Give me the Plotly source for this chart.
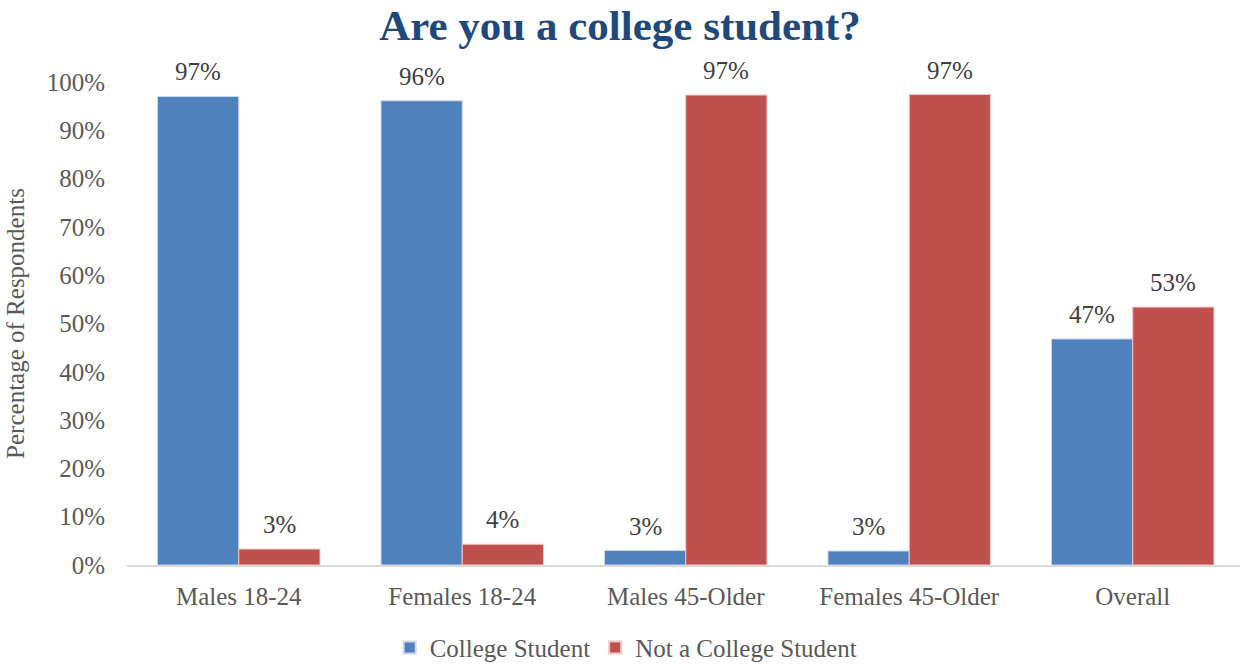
import plotly.graph_objects as go

# Survey breakdown: share of respondents in each group
groups = ["Males 18-24", "Females 18-24", "Males 45-Older", "Females 45-Older", "Overall"]
college = [97.0, 96.1, 3.0, 2.9, 46.8]
not_college = [3.3, 4.3, 97.3, 97.4, 53.4]
y_ticks = list(range(0, 101, 10))

BLUE = "#4F81BD"
RED = "#C0504D"
SERIF = "Liberation Serif"
TEXT = "#595959"

fig = go.Figure()
fig.add_trace(go.Bar(
    name="College Student", x=groups, y=college,
    marker=dict(color=BLUE, line=dict(color="#C9D7EA", width=1)),
))
fig.add_trace(go.Bar(
    name="Not a College Student", x=groups, y=not_college,
    marker=dict(color=RED, line=dict(color="#EBC9C8", width=1)),
))

# Value labels sitting above each bar
offsets = [-0.182, 0.182]
for off, vals in zip(offsets, [college, not_college]):
    for i, v in enumerate(vals):
        fig.add_annotation(
            x=i + off, y=v, text=f"{v:.0f}%", showarrow=False,
            xref="x", yref="y", yanchor="bottom", yshift=9,
            font=dict(family=SERIF, size=25, color="#404040"),
        )

fig.update_layout(
    width=1240, height=665,
    paper_bgcolor="white", plot_bgcolor="white",
    margin=dict(l=127, r=0, t=82, b=100, autoexpand=False),
    barmode="group", bargap=0.273, bargroupgap=0,
    title=dict(
        text="<b>Are you a college student?</b>",
        x=0.5, xanchor="center", y=0.962, yanchor="middle",
        font=dict(family=SERIF, size=43, color="#1F497D"),
    ),
    legend=dict(
        orientation="h", xref="container", x=0.505, xanchor="center",
        yref="container", y=0.026, yanchor="middle",
        font=dict(family=SERIF, size=25, color=TEXT),
        itemsizing="constant", traceorder="normal",
    ),
    showlegend=True,
)
fig.update_xaxes(
    type="category", range=[-0.5, 4.48],
    showline=True, linecolor="#D9D9D9", linewidth=2,
    showgrid=False, ticks="", ticklabelstandoff=8,
    tickfont=dict(family=SERIF, size=25, color=TEXT),
)
fig.update_yaxes(
    range=[0, 100], tickvals=y_ticks, ticktext=[f"{t}%" for t in y_ticks],
    showgrid=False, zeroline=False, showline=False, ticks="",
    ticklabelstandoff=21,
    tickfont=dict(family=SERIF, size=25, color=TEXT),
    title=dict(text="Percentage of Respondents", standoff=14,
               font=dict(family=SERIF, size=25, color=TEXT)),
)

fig.write_html("out.html")
